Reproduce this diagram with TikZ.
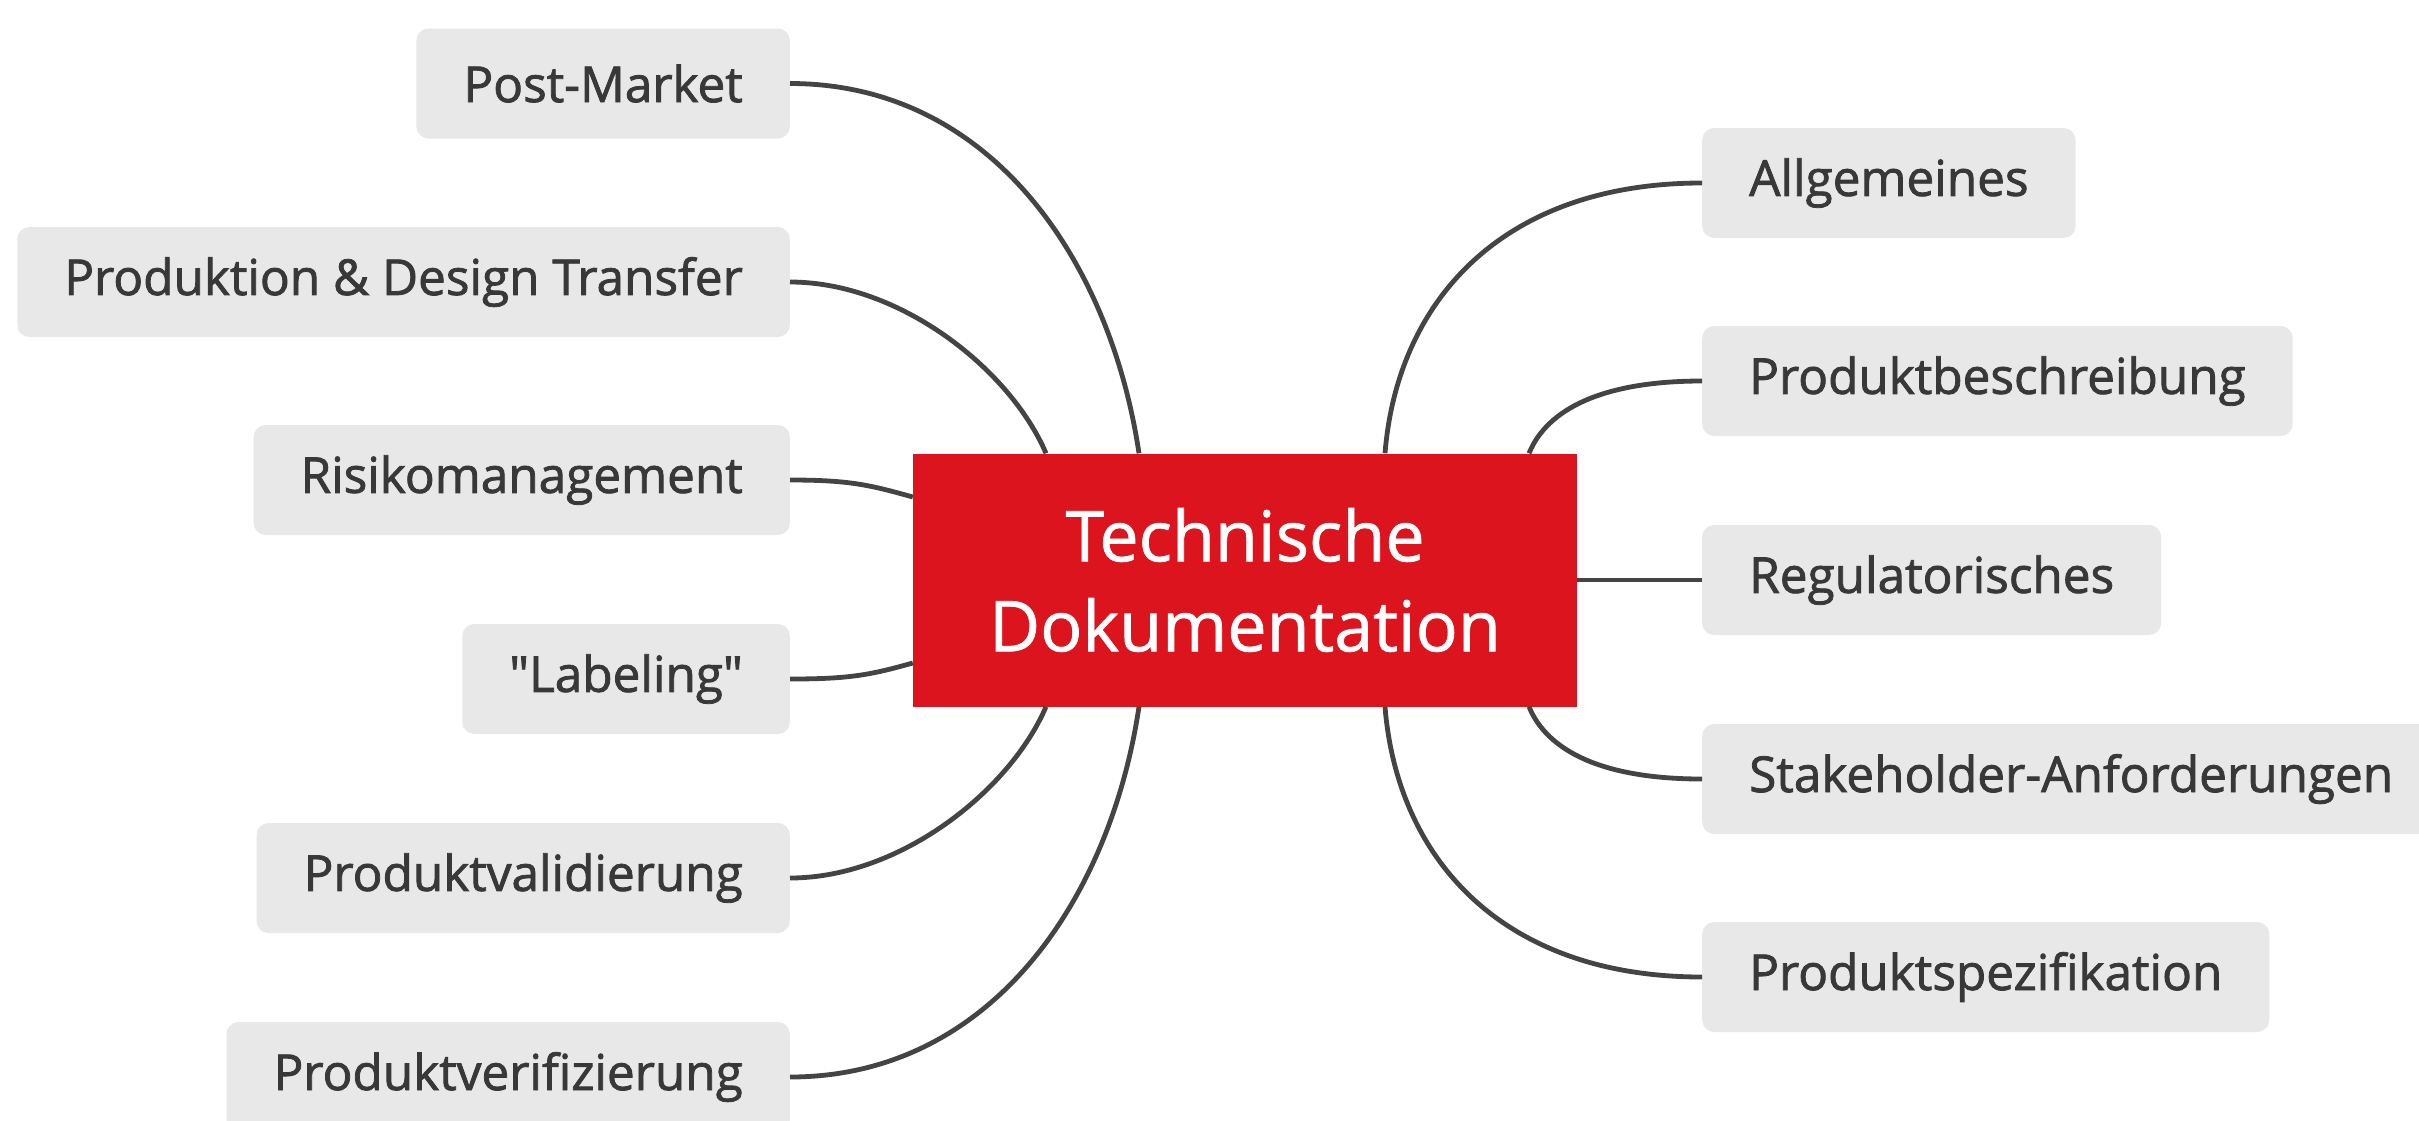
\documentclass[tikz,border=0pt]{standalone}
\usepackage{fontspec}
\setmainfont{Open Sans}
\newfontfamily\leaffont[FakeBold=1.6]{Open Sans}
\newfontfamily\hubfont[FakeBold=1.0]{Open Sans}
\definecolor{boxgray}{HTML}{E8E8E8}
\definecolor{txtgray}{HTML}{383838}
\definecolor{linegray}{HTML}{444444}
\definecolor{mainred}{HTML}{DC141E}
\begin{document}
\begin{tikzpicture}[x=1pt,y=-1pt,
  leaf/.style={rectangle, rounded corners=12pt, fill=boxgray, text=txtgray,
    minimum height=110pt, inner xsep=47pt, inner ysep=0pt,
    font=\leaffont\fontsize{49.5}{58}\selectfont},
  lleaf/.style={leaf, anchor=east},
  rleaf/.style={leaf, anchor=west},
  hub/.style={rectangle, fill=mainred, text=white, minimum width=664pt,
    minimum height=253pt, align=center,
    font=\hubfont\fontsize{70}{90}\selectfont},
  conn/.style={draw=linegray, line width=4.8pt}]
\useasboundingbox (0,0) rectangle (2419,1120);
\fill[white] (0,0) rectangle (2419,1120);

\node[hub] (c) at (1245,580) {Technische\\Dokumentation};

\node[lleaf] (pm) at (790,83.5) {Post-Market};
\node[lleaf] (pd) at (790,282) {Produktion \& Design Transfer};
\node[lleaf] (rm) at (790,480) {Risikomanagement};
\node[lleaf] (lb) at (790,679) {\char34 Labeling\char34};
\node[lleaf] (pva) at (790,878) {Produktvalidierung};
\node[lleaf] (pve) at (790,1077) {Produktverifizierung};

\node[rleaf] (al) at (1702,183) {Allgemeines};
\node[rleaf] (pb) at (1702,381) {Produktbeschreibung};
\node[rleaf] (rg) at (1702,580) {Regulatorisches};
\node[rleaf] (sh) at (1702,779) {Stakeholder-Anforderungen};
\node[rleaf] (ps) at (1702,977) {Produktspezifikation};

\coordinate (tA) at ([xshift=-199pt]c.north);
\coordinate (tB) at ([xshift=-106pt]c.north);
\coordinate (tC) at ([xshift=140pt]c.north);
\coordinate (tD) at ([xshift=284pt]c.north);
\coordinate (bA) at ([xshift=-199pt]c.south);
\coordinate (bB) at ([xshift=-106pt]c.south);
\coordinate (bC) at ([xshift=140pt]c.south);
\coordinate (bD) at ([xshift=284pt]c.south);
\coordinate (lA) at ([yshift=83pt]c.west);
\coordinate (lB) at ([yshift=-83pt]c.west);

\draw[conn] (pm.east) .. controls +(200,0) and +(-29,-194) .. (tB);
\draw[conn] (pd.east) .. controls +(110,0) and +(-36,-84) .. (tA);
\draw[conn] (rm.east) .. controls +(60,0) and +(-43,-12) .. (lA);
\draw[conn] (lb.east) .. controls +(60,0) and +(-43,12) .. (lB);
\draw[conn] (pva.east) .. controls +(110,0) and +(-36,84) .. (bA);
\draw[conn] (pve.east) .. controls +(200,0) and +(-29,194) .. (bB);

\draw[conn] (al.west) .. controls +(-202,0) and +(12,-150) .. (tC);
\draw[conn] (pb.west) .. controls +(-100,0) and +(18,-44) .. (tD);
\draw[conn] (rg.west) -- (c.east);
\draw[conn] (sh.west) .. controls +(-100,0) and +(18,44) .. (bD);
\draw[conn] (ps.west) .. controls +(-202,0) and +(12,150) .. (bC);
\end{tikzpicture}
\end{document}
